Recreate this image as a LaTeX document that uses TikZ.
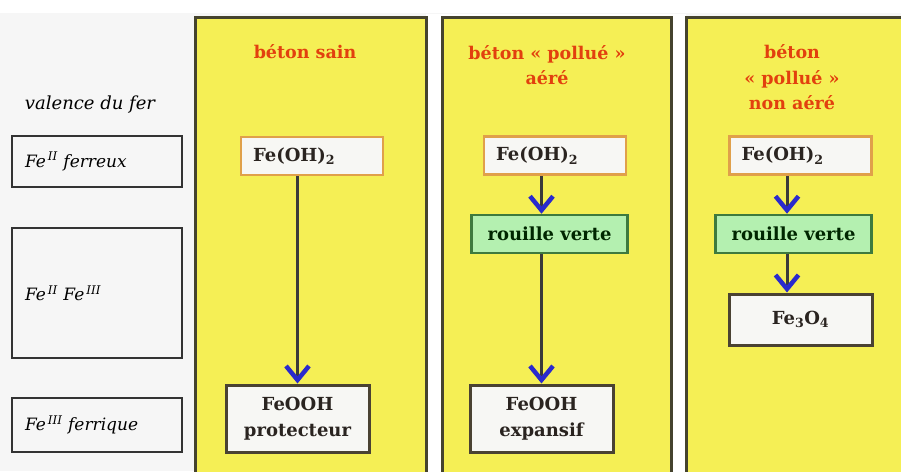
\documentclass[tikz,border=0pt]{standalone}
\usepackage{fontspec}
\setmainfont{DejaVu Serif}
\usetikzlibrary{arrows.meta}
\definecolor{bg}{HTML}{F6F6F6}
\definecolor{panelfill}{HTML}{F5EF55}
\definecolor{panelline}{HTML}{45432E}
\definecolor{titlered}{HTML}{E2400E}
\definecolor{orangeline}{HTML}{E0A04A}
\definecolor{boxfill}{HTML}{F7F7F4}
\definecolor{greenfill}{HTML}{B4F0B0}
\definecolor{greenline}{HTML}{3E7A3E}
\definecolor{arrowblue}{HTML}{2A2ACC}
\definecolor{shaftcol}{HTML}{3A3A3A}
\definecolor{darkline}{HTML}{4A4232}
\definecolor{boxtext}{HTML}{2A2420}
\begin{document}
\begin{tikzpicture}[x=1pt,y=-1pt,
  panelbox/.style={fill=panelfill,draw=panelline,line width=3pt},
  paneltitle/.style={text=titlered,font=\bfseries\fontsize{17.5}{25.5}\selectfont,align=center,inner sep=0pt},
  hydbox/.style={draw=orangeline,fill=boxfill,line width=2.5pt,minimum width=142,minimum height=38,
     text width=118,align=left,inner xsep=12,text=boxtext,font=\bfseries\fontsize{18}{26}\selectfont},
  rvbox/.style={draw=greenline,fill=greenfill,line width=2.5pt,minimum width=156,minimum height=38,
     align=center,inner sep=0pt,font=\bfseries\fontsize{18}{26}\selectfont,text=black!85!green},
  prodbox/.style={draw=darkline,fill=boxfill,line width=3pt,minimum width=143,
     align=center,inner sep=0pt,text=boxtext,font=\bfseries\fontsize{18}{26}\selectfont},
  valbox/.style={draw=black!80,fill=bg,line width=2.5pt,minimum width=170,text width=144,
     align=left,inner xsep=13,font=\itshape\fontsize{17}{20}\selectfont},
  flow/.style={draw=shaftcol,line width=3pt,
     -{Straight Barb[color=arrowblue,length=14pt,width=23pt,line width=4.5pt]}},
]
\useasboundingbox (0,0) rectangle (901,471);
\fill[bg] (0,0) rectangle (901,471);
\fill[white] (0,0) rectangle (901,13);
\begin{scope}
\clip (0,0) rectangle (901,471);
\fill[white] (426,14) rectangle (686,471);
\draw[panelbox] (195,17) rectangle (426,485);
\draw[panelbox] (442,17) rectangle (671,485);
\draw[panelbox] (686,17) rectangle (910,485);
\end{scope}

% titles
\node[paneltitle] (t1) at (305,52) {béton sain};
\node[paneltitle] (t2) at (547,65) {béton « pollué »\\aéré};
\node[paneltitle] (t3) at (792,77.5) {béton\\« pollué »\\non aéré};

% left column
\node[font=\itshape\fontsize{18}{20}\selectfont,inner sep=0pt] (val) at (90,105) {valence du fer};
\node[valbox,minimum height=51] (v1) at (97,161.5) {Fe\textsuperscript{\,II} ferreux};
\node[valbox,minimum height=130] (v2) at (97,293) {Fe\textsuperscript{\,II} Fe\textsuperscript{\,III}};
\node[valbox,minimum height=54] (v3) at (97,425) {Fe\textsuperscript{\,III} ferrique};

% panel 1
\node[hydbox] (fe1) at (312,156) {Fe(OH)\textsubscript{2}};
\node[prodbox,minimum height=67] (p1) at (297.5,418.5) {FeOOH\\protecteur};
\draw[flow] (fe1.south -| p1) -- (p1.north);

% panel 2
\node[hydbox] (fe2) at (555,155.5) {Fe(OH)\textsubscript{2}};
\node[rvbox] (rv2) at (549.5,234) {rouille verte};
\node[prodbox,minimum height=67] (p2) at (541.5,418.5) {FeOOH\\expansif};
\draw[flow] (fe2.south -| p2) -- (rv2.north -| p2);
\draw[flow] (rv2.south -| p2) -- (p2.north);

% panel 3
\coordinate (ax3) at (787,0);
\node[hydbox] (fe3) at (800.5,155.5) {Fe(OH)\textsubscript{2}};
\node[rvbox] (rv3) at (793.5,234) {rouille verte};
\node[prodbox,minimum height=51] (p3) at (800.5,319.5) {Fe\textsubscript{3}O\textsubscript{4}};
\draw[flow] (fe3.south -| ax3) -- (rv3.north -| ax3);
\draw[flow] (rv3.south -| ax3) -- (p3.north -| ax3);
\end{tikzpicture}
\end{document}
